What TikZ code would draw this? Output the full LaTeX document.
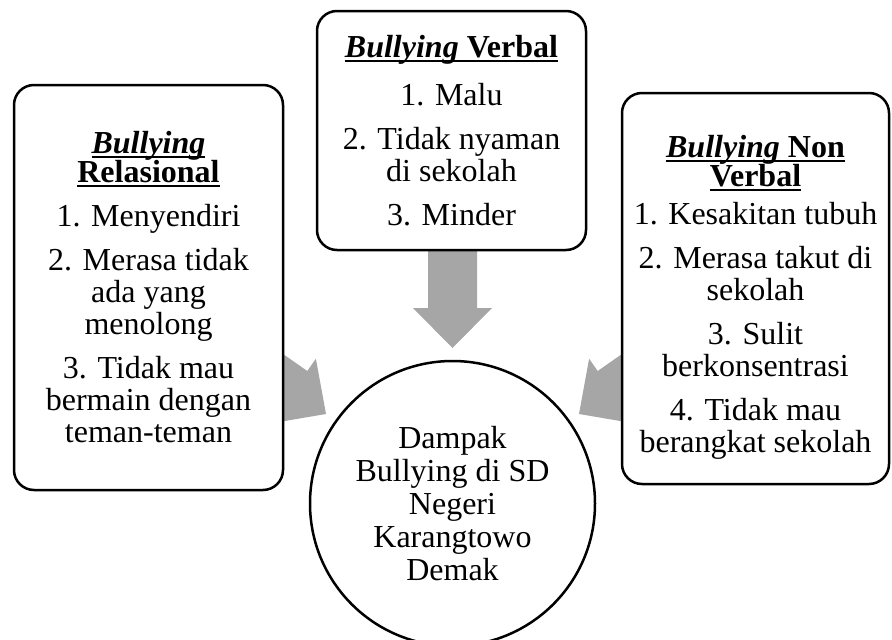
\documentclass[tikz,border=0pt]{standalone}
\usepackage{fontspec}
\setmainfont{Liberation Serif}
\newcommand\ulx[1]{\leavevmode\setbox0\hbox{#1}\rlap{\rule[-4.5pt]{\wd0}{2pt}}\box0}
\begin{document}
\begin{tikzpicture}[x=1pt,y=1pt,
  boxstyle/.style={draw=black, line width=2.5pt, rounded corners=20pt, fill=white,
    align=center, inner sep=0pt, font=\fontsize{32}{32}\selectfont},
  roundstyle/.style={circle, draw=black, line width=2.5pt, fill=white, inner sep=0pt,
    align=center, font=\fontsize{32}{33}\selectfont},
  arrowfill/.style={fill=arrowgray, draw=none}]
\definecolor{arrowgray}{RGB}{166,166,166}
\useasboundingbox (0,0) rectangle (892,-640);
% block arrows (drawn first, partly hidden behind the boxes)
\begin{scope}[shift={(452.5,-348)}, rotate=-90]
  \fill[arrowfill] (0,0) -- (-40,39.5) -- (-40,24.5) -- (-110,24.5) -- (-110,-24.5) -- (-40,-24.5) -- (-40,-39.5) -- cycle;
\end{scope}
\begin{scope}[shift={(326,-414)}, rotate=-35]
  \fill[arrowfill] (0,0) -- (-40,39.5) -- (-40,24.5) -- (-130,24.5) -- (-130,-24.5) -- (-40,-24.5) -- (-40,-39.5) -- cycle;
\end{scope}
\begin{scope}[shift={(579,-414)}, xscale=-1, rotate=-35]
  \fill[arrowfill] (0,0) -- (-40,39.5) -- (-40,24.5) -- (-130,24.5) -- (-130,-24.5) -- (-40,-24.5) -- (-40,-39.5) -- cycle;
\end{scope}
% boxes
\node[boxstyle, minimum width=269, minimum height=405] (rel) at (148.5,-287.5)
 {\ulx{\textbf{\textit{Bullying}}}\\[-3pt]
  \ulx{\textbf{Relasional}}\\[12pt]
  1. Menyendiri\\[12pt]
  2. Merasa tidak\\ ada yang\\ menolong\\[12pt]
  3. Tidak mau\\ bermain dengan\\ teman-teman};
\node[boxstyle, minimum width=269, minimum height=239] (verb) at (451.5,-130.5)
 {\ulx{\textbf{\textit{Bullying} Verbal}}\\[16pt]
  1. Malu\\[12pt]
  2. Tidak nyaman\\ di sekolah\\[12pt]
  3. Minder};
\node[boxstyle, minimum width=267, minimum height=391] (nonverb) at (755.5,-288.5)
 {\rule{0pt}{40pt}\ulx{\textbf{\textit{Bullying} Non}}\\[-3pt]
  \ulx{\textbf{Verbal}}\\[6pt]
  1. Kesakitan tubuh\\[12pt]
  2. Merasa takut di\\ sekolah\\[12pt]
  3. Sulit\\ berkonsentrasi\\[12pt]
  4. Tidak mau\\ berangkat sekolah};
\node[roundstyle, minimum size=285] (dampak) at (452.5,-503.5)
 {Dampak\\ Bullying di SD\\ Negeri\\ Karangtowo\\ Demak};
\end{tikzpicture}
\end{document}
